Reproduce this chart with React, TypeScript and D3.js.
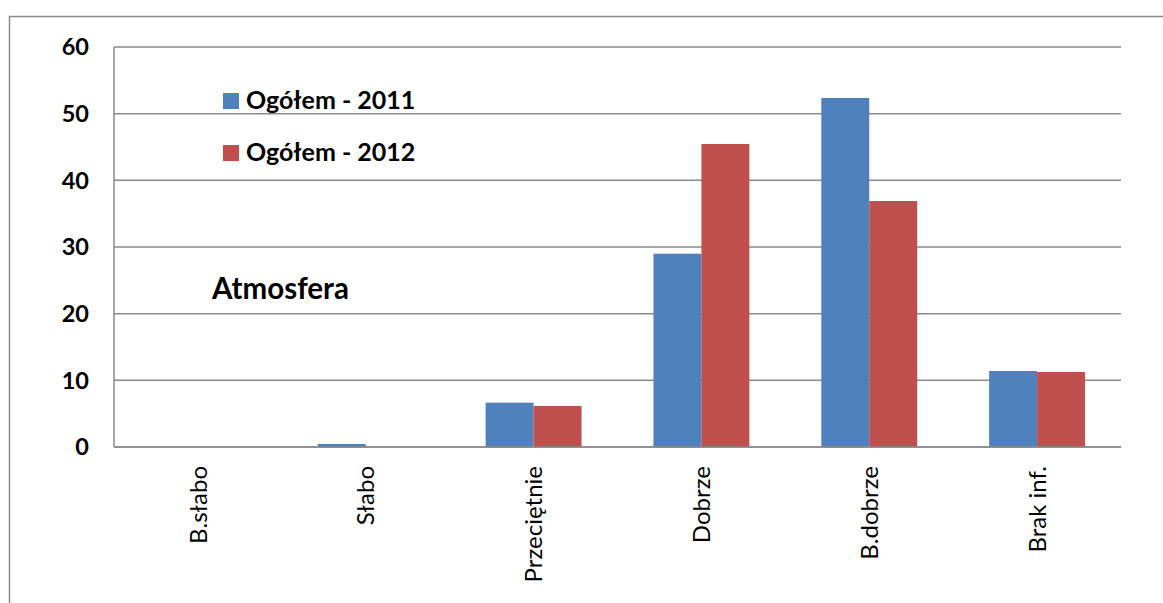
import React from 'react';
import * as d3 from 'd3';

const categories = ['B.słabo', 'Słabo', 'Przeciętnie', 'Dobrze', 'B.dobrze', 'Brak inf.'];
const values2011 = [0, 0.45, 6.65, 29.0, 52.35, 11.4];
const values2012 = [0, 0, 6.15, 45.45, 36.9, 11.25];
const seriesNames = ['Ogółem - 2011', 'Ogółem - 2012'];
const yTicks = [0, 10, 20, 30, 40, 50, 60];
const chartTitle = 'Atmosfera';

const W = 1163;
const H = 603;
const colors = ['#4F81BD', '#C0504D'];
const gridColor = '#8a8a8a';
const font = 'Lato, "Open Sans", sans-serif';

export default function App() {
  const left = 114;
  const right = 1121;
  const top = 47;
  const bottom = 447;

  const x = d3.scaleBand<string>().domain(categories).range([left, right]).paddingInner(0).paddingOuter(0);
  const y = d3.scaleLinear().domain([0, 60]).range([bottom, top]);
  const step = x.bandwidth();
  const barW = step / 3.5;
  const x1 = d3.scaleBand<number>().domain([0, 1]).range([0, barW * 2]);

  const series = [values2011, values2012];

  return (
    <svg width={W} height={H} style={{ position: 'absolute', left: 0, top: 0, background: '#fff' }}>
      <rect x={9.5} y={16.5} width={1300} height={800} fill="#fff" stroke={gridColor} strokeWidth={1.5} />
      {yTicks.map((t) => (
        <g key={t}>
          <line x1={left} x2={right} y1={y(t)} y2={y(t)} stroke={gridColor} strokeWidth={1.5} />
          <text x={89} y={y(t)} dy="0.36em" textAnchor="end" fontFamily={font} fontWeight="bold" fontSize={23.5} fill="#000">
            {t}
          </text>
        </g>
      ))}
      <line x1={left} x2={left} y1={top} y2={bottom} stroke={gridColor} strokeWidth={1.5} />
      {categories.map((c, i) => {
        const cx = (x(c) as number) + step / 2;
        return (
          <g key={c}>
            {series.map((vals, s) => {
              const v = vals[i];
              if (v <= 0) return null;
              const bx = cx - barW + (x1(s) as number);
              return (
                <rect key={s} x={bx} y={y(v)} width={barW} height={y(0) - y(v)} fill={colors[s]} />
              );
            })}
            <text
              transform={`translate(${cx},466) rotate(-90)`}
              textAnchor="end"
              dy="0.36em"
              fontFamily={font}
              fontSize={24}
              fill="#000"
            >
              {c}
            </text>
          </g>
        );
      })}
      <line x1={left} x2={right} y1={bottom} y2={bottom} stroke={gridColor} strokeWidth={1.5} />
      {seriesNames.map((n, s) => (
        <g key={n}>
          <rect x={223} y={93 + s * 52} width={16} height={16} fill={colors[s]} />
          <text x={246} y={109 + s * 52} fontFamily={font} fontWeight="bold" fontSize={25} fill="#000">
            {n}
          </text>
        </g>
      ))}
      <text x={212} y={299} fontFamily={font} fontWeight="bold" fontSize={29.5} fill="#000">
        {chartTitle}
      </text>
    </svg>
  );
}
